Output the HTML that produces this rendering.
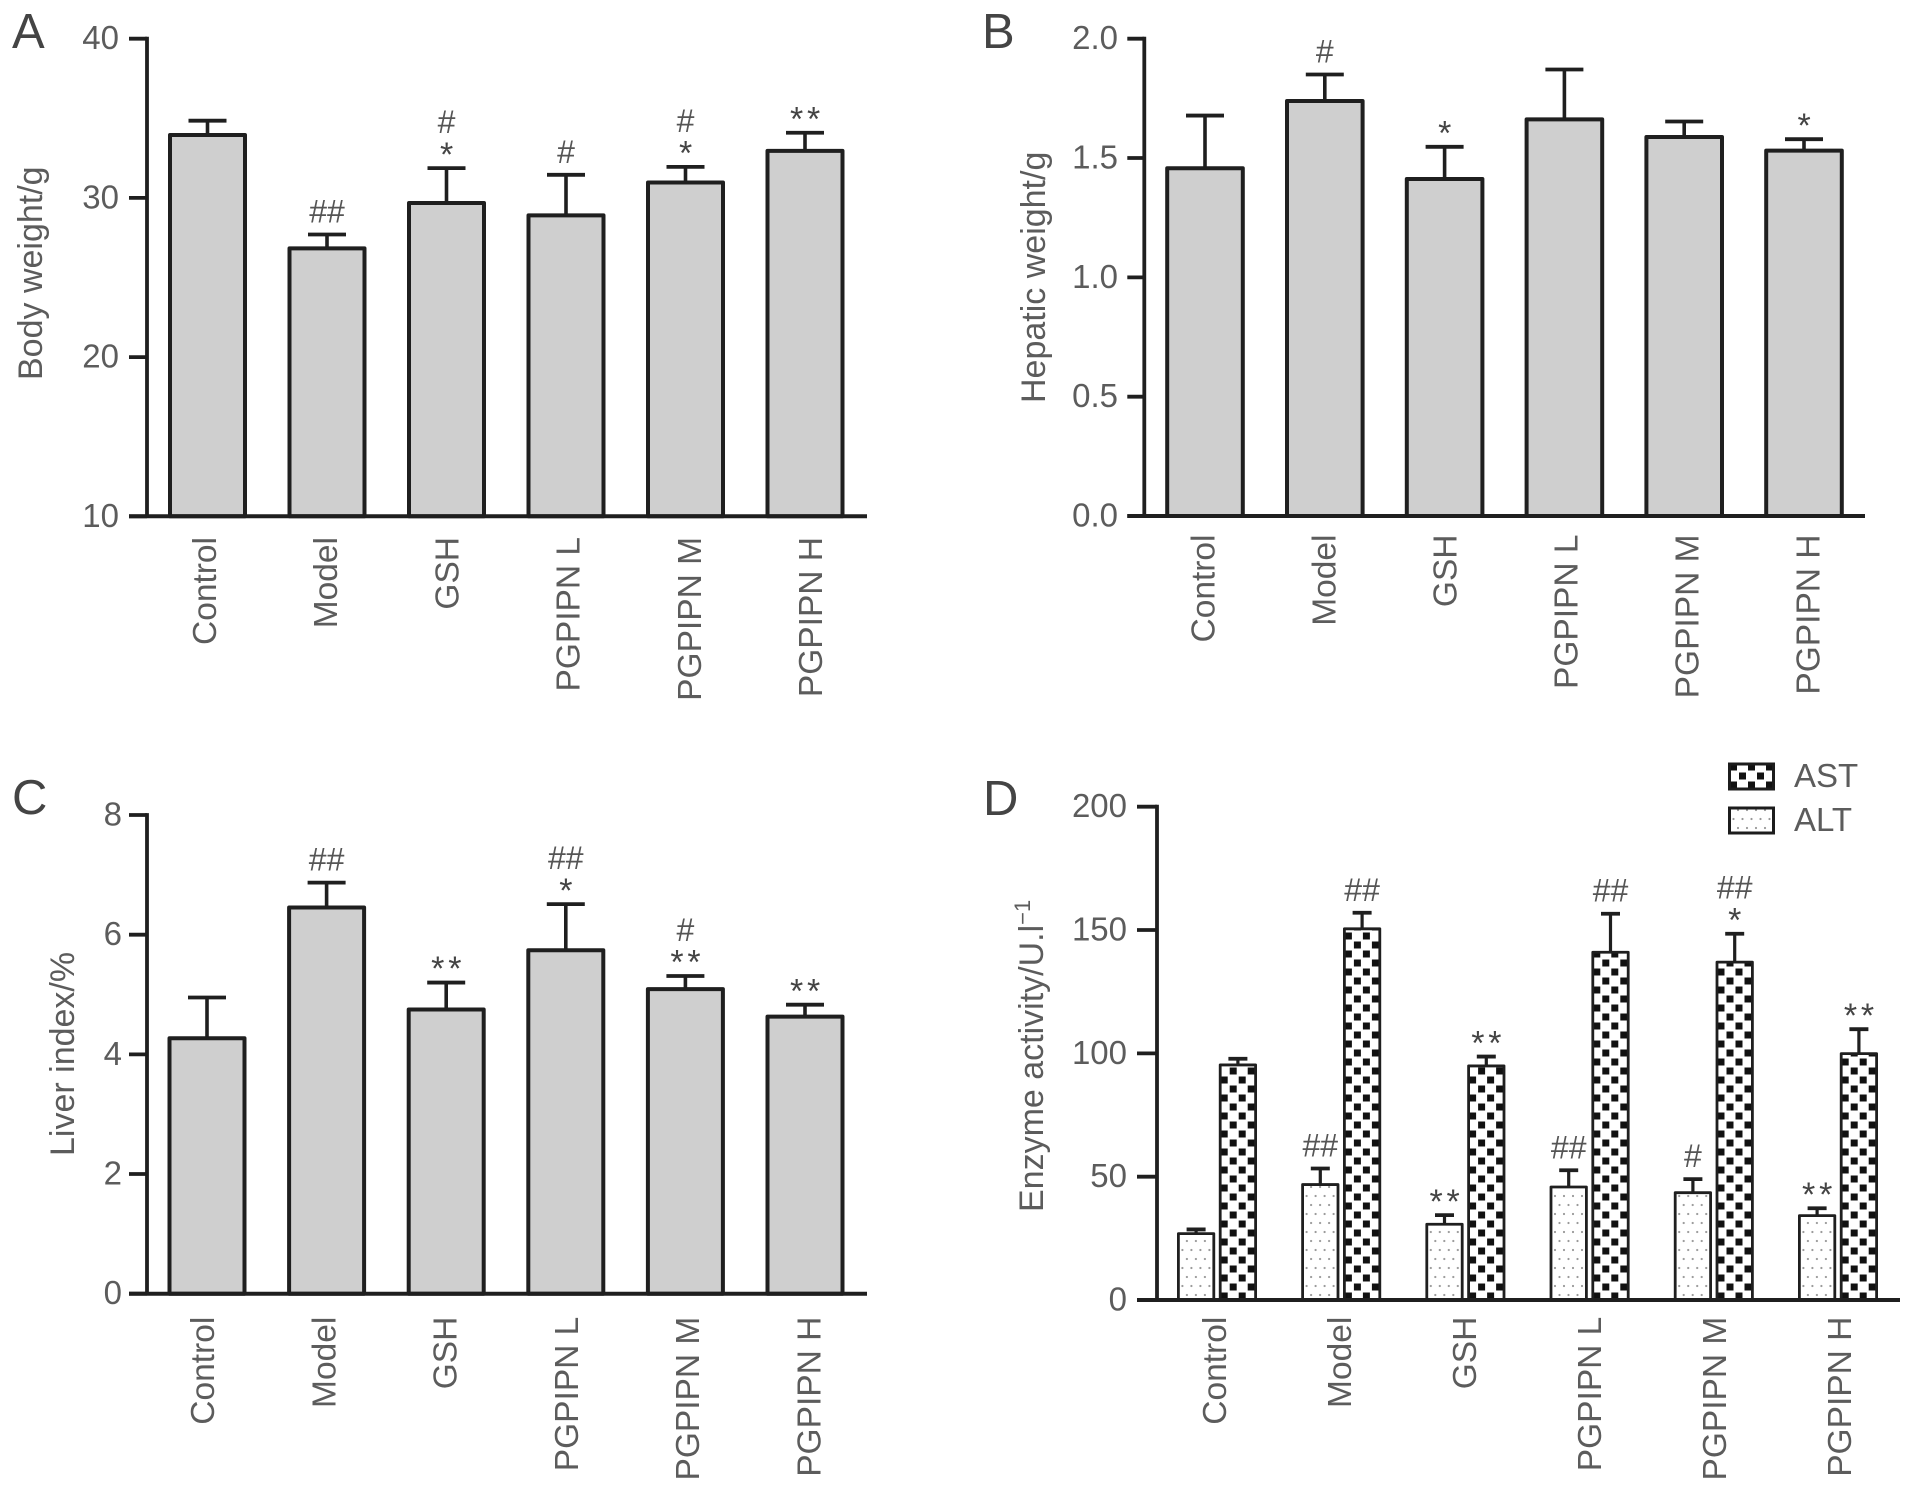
<!DOCTYPE html>
<html lang="en">
<head>
<meta charset="utf-8">
<title>Body weight, hepatic weight, liver index and enzyme activity</title>
<style>
html,body{margin:0;padding:0;background:#fff;}
svg{display:block;}
text{font-family:"Liberation Sans",Arial,sans-serif;fill:#5c5c5c;}
.panel-letter{font-size:49px;fill:#444;}
.tick{font-size:33px;text-anchor:end;}
.cat{font-size:33.5px;text-anchor:end;}
.title{font-size:34px;}
.legend-text{font-size:33px;}
.hash{font-size:32px;text-anchor:middle;fill:#555;}
.star{font-size:34px;text-anchor:middle;letter-spacing:3.8px;fill:#444;}
</style>
</head>
<body>
<svg id="figure" xmlns="http://www.w3.org/2000/svg" width="1913" height="1490" viewBox="0 0 1913 1490">
  <defs>
    <pattern id="check" patternUnits="userSpaceOnUse" width="18" height="18">
      <rect x="0" y="0" width="18" height="18" fill="#fff"/>
      <rect x="0.5" y="10.5" width="7" height="7" fill="#111"/>
      <rect x="9.5" y="1.5" width="7" height="7" fill="#111"/>
    </pattern>
    <pattern id="dots" patternUnits="userSpaceOnUse" width="18" height="18">
      <rect x="0" y="0" width="18" height="18" fill="#fff"/>
      <circle cx="4" cy="4" r="1.1" fill="#999"/>
      <circle cx="13" cy="4" r="1.1" fill="#999"/>
      <circle cx="8.5" cy="13" r="1.1" fill="#999"/>
      <circle cx="17.5" cy="13" r="1.1" fill="#999"/>
      <circle cx="-0.5" cy="13" r="1.1" fill="#999"/>
    </pattern>
  </defs>
  <g id="panel-a"></g>
  <g id="panel-b"></g>
  <g id="panel-c"></g>
  <g id="panel-d"></g>
  <g>
    <g>
      <g transform="translate(1729.5,789)">
        <rect x="0" y="-25" width="44" height="25" fill="url(#check)" stroke="#1c1c1c" stroke-width="3"/>
      </g>
      <text class="legend-text" x="1794" y="787">AST</text>
    </g>
    <g>
      <g transform="translate(1729.5,833)">
        <rect x="0" y="-25" width="44" height="25" fill="url(#dots)" stroke="#1c1c1c" stroke-width="3"/>
      </g>
      <text class="legend-text" x="1794" y="831">ALT</text>
    </g>
  </g>
</svg>
<script>
const categories = ['Control', 'Model', 'GSH', 'PGPIPN L', 'PGPIPN M', 'PGPIPN H'];

const bodyWeightTicks = [10, 20, 30, 40];
const bodyWeightMeans = [33.95, 26.83, 29.68, 28.9, 30.97, 32.95];
const bodyWeightUpper = [34.85, 27.7, 31.87, 31.45, 31.95, 34.09];
const bodyWeightHash = ['', '##', '#', '#', '#', ''];
const bodyWeightStars = ['', '', '*', '', '*', '**'];

const hepaticTicks = ['0.0', '0.5', '1.0', '1.5', '2.0'];
const hepaticMeans = [1.457, 1.739, 1.412, 1.662, 1.588, 1.531];
const hepaticUpper = [1.678, 1.85, 1.547, 1.871, 1.653, 1.579];
const hepaticHash = ['', '#', '', '', '', ''];
const hepaticStars = ['', '', '*', '', '', '*'];

const liverTicks = [0, 2, 4, 6, 8];
const liverMeans = [4.27, 6.455, 4.75, 5.74, 5.09, 4.63];
const liverUpper = [4.95, 6.87, 5.2, 6.51, 5.31, 4.83];
const liverHash = ['', '##', '', '##', '#', ''];
const liverStars = ['', '', '**', '*', '**', '**'];

const enzymeTicks = [0, 50, 100, 150, 200];
const altMeans = [26.9, 46.8, 30.7, 45.8, 43.5, 34.2];
const altUpper = [28.6, 53.3, 34.4, 52.6, 49, 37.2];
const altHash = ['', '##', '', '##', '#', ''];
const altStars = ['', '', '**', '', '', '**'];
const astMeans = [95.3, 150.5, 94.9, 141, 137, 99.9];
const astUpper = [97.8, 157, 98.7, 156.6, 148.5, 109.8];
const astHash = ['', '##', '', '##', '##', ''];
const astStars = ['', '', '**', '', '*', '**'];

const SVGNS = 'http://www.w3.org/2000/svg';

function shape(tag, attrs, parent) {
  const node = document.createElementNS(SVGNS, tag);
  Object.keys(attrs).forEach(function (k) { node.setAttribute(k, attrs[k]); });
  parent.appendChild(node);
  return node;
}

function slug(s) {
  return s.toLowerCase().replace(/[^a-z0-9]+/g, '-');
}

function makeScale(vMin, vMax, pxBottom, pxTop) {
  return function (v) {
    return pxBottom + (v - vMin) / (vMax - vMin) * (pxTop - pxBottom);
  };
}

function drawFrame(root, cfg, ticks, yScale) {
  const letter = shape('text', { x: cfg.letterX, y: cfg.letterY, 'class': 'panel-letter' }, root);
  letter.textContent = cfg.letter;
  
  

  const title = shape('text', { 'class': 'title', transform: 'translate(' + cfg.titleX + ',' + cfg.titleY + ') rotate(-90)', x: 0, y: 0 }, root);
  title.textContent = cfg.title;
  
  
  if (cfg.titleSup) {
    const sup = shape('tspan', { dy: -13, 'font-size': 22 }, title);
    sup.textContent = cfg.titleSup;
  }

  ticks.forEach(function (t) {
    const y = yScale(Number(t));
    const mark = shape('line', { x1: cfg.tickLeft, x2: cfg.axisX, y1: y, y2: y, stroke: '#1f1f1f', 'stroke-width': 3.8 }, root);
    
    
    const label = shape('text', { x: cfg.tickLabelX, y: y + 10.5, 'class': 'tick' }, root);
    label.textContent = String(t);
    
    
  });

  const axis = shape('line', { x1: cfg.axisX, x2: cfg.axisX, y1: cfg.pxTop - 1.9, y2: cfg.pxBottom, stroke: '#1f1f1f', 'stroke-width': 3.8 }, root);
  
  

  categories.forEach(function (c, i) {
    const x = cfg.labelStart + cfg.labelStep * i;
    const label = shape('text', { 'class': 'cat', transform: 'translate(' + x + ',' + cfg.labelTop + ') rotate(-90)', x: 0, y: 0 }, root);
    label.textContent = c;
    
    
  });
}

function drawBaseline(root, cfg) {
  const axis = shape('line', { x1: cfg.tickLeft, x2: cfg.axisEnd, y1: cfg.pxBottom, y2: cfg.pxBottom, stroke: '#1f1f1f', 'stroke-width': 4 }, root);
  
  
}

function drawBar(root, cx, opts, mean, upper, hash, stars, yScale, name) {
  const top = yScale(mean);
  const errTop = yScale(upper);
  const base = yScale(opts.vMin);

  const stem = shape('line', { x1: cx, x2: cx, y1: top, y2: errTop, stroke: '#1f1f1f', 'stroke-width': opts.stem }, root);
  
  

  const cap = shape('line', { x1: cx - opts.cap / 2, x2: cx + opts.cap / 2, y1: errTop, y2: errTop, stroke: '#1f1f1f', 'stroke-width': opts.capStroke }, root);
  
  

  const left = cx - opts.width / 2;
  const holder = shape('g', { transform: 'translate(' + left + ',' + base + ')' }, root);
  const bar = shape('rect', { x: 0, y: top - base, width: opts.width, height: base - top, fill: opts.fill, stroke: '#1f1f1f', 'stroke-width': opts.stroke, 'stroke-linejoin': 'round' }, holder);
  
  

  if (stars) {
    const s = shape('text', { x: cx + 2, y: errTop - 22 + 19.7, 'class': 'star' }, root);
    s.textContent = stars;
    
    
  }
  if (hash) {
    const h = shape('text', { x: cx, y: errTop - (stars ? 46 : 23) + 11, 'class': 'hash' }, root);
    h.textContent = hash;
    
    
  }
}

function drawSinglePanel(id, cfg, ticks, means, upper, hash, stars) {
  const root = document.getElementById(id);
  const yScale = makeScale(cfg.vMin, cfg.vMax, cfg.pxBottom, cfg.pxTop);
  drawFrame(root, cfg, ticks, yScale);
  const opts = { vMin: cfg.vMin, width: cfg.barWidth, fill: '#cfcfcf', stroke: 4, stem: 3.6, cap: 38, capStroke: 3.8 };
  categories.forEach(function (c, i) {
    const cx = cfg.barStart + cfg.barStep * i;
    drawBar(root, cx, opts, means[i], upper[i], hash[i], stars[i], yScale, slug(c));
  });
  drawBaseline(root, cfg);
}

drawSinglePanel('panel-a', {
  letter: 'A', letterX: 12, letterY: 48,
  title: 'Body weight/g', titleX: 42, titleY: 380,
  vMin: 10, vMax: 40, pxBottom: 516.3, pxTop: 38.7,
  axisX: 147, tickLeft: 129, tickLabelX: 119, axisEnd: 867,
  barStart: 207.5, barStep: 119.5, barWidth: 75,
  labelStart: 216, labelStep: 121.2, labelTop: 537
}, bodyWeightTicks, bodyWeightMeans, bodyWeightUpper, bodyWeightHash, bodyWeightStars);

drawSinglePanel('panel-b', {
  letter: 'B', letterX: 982, letterY: 48,
  title: 'Hepatic weight/g', titleX: 1045, titleY: 403,
  vMin: 0, vMax: 2, pxBottom: 516, pxTop: 38.7,
  axisX: 1144.3, tickLeft: 1127.3, tickLabelX: 1118, axisEnd: 1865,
  barStart: 1205, barStep: 119.8, barWidth: 75.6,
  labelStart: 1214.5, labelStep: 121, labelTop: 534.5
}, hepaticTicks, hepaticMeans, hepaticUpper, hepaticHash, hepaticStars);

drawSinglePanel('panel-c', {
  letter: 'C', letterX: 12, letterY: 814,
  title: 'Liver index/%', titleX: 74, titleY: 1156,
  vMin: 0, vMax: 8, pxBottom: 1293.7, pxTop: 815,
  axisX: 147, tickLeft: 129, tickLabelX: 122, axisEnd: 867,
  barStart: 207, barStep: 119.6, barWidth: 75,
  labelStart: 214, labelStep: 121.3, labelTop: 1316.7
}, liverTicks, liverMeans, liverUpper, liverHash, liverStars);

(function drawEnzymePanel() {
  const cfg = {
    letter: 'D', letterX: 983, letterY: 815,
    title: 'Enzyme activity/U.l', titleSup: '\u22121', titleX: 1043, titleY: 1212,
    vMin: 0, vMax: 200, pxBottom: 1300, pxTop: 806.7,
    axisX: 1157, tickLeft: 1137, tickLabelX: 1127, axisEnd: 1900,
    groupStart: 1217, groupStep: 124.2, barOffset: 20.9, barWidth: 35.4,
    labelStart: 1226, labelStep: 125, labelTop: 1316.7
  };
  const root = document.getElementById('panel-d');
  const yScale = makeScale(cfg.vMin, cfg.vMax, cfg.pxBottom, cfg.pxTop);
  drawFrame(root, cfg, enzymeTicks, yScale);
  const base = { vMin: 0, width: cfg.barWidth, stroke: 2.8, stem: 3.2, cap: 19, capStroke: 3.8 };
  categories.forEach(function (c, i) {
    const cx = cfg.groupStart + cfg.groupStep * i;
    const altOpts = Object.assign({}, base, { fill: 'url(#dots)' });
    const astOpts = Object.assign({}, base, { fill: 'url(#check)' });
    drawBar(root, cx - cfg.barOffset, altOpts, altMeans[i], altUpper[i], altHash[i], altStars[i], yScale, 'alt-' + slug(c));
    drawBar(root, cx + cfg.barOffset, astOpts, astMeans[i], astUpper[i], astHash[i], astStars[i], yScale, 'ast-' + slug(c));
  });
  drawBaseline(root, cfg);
})();
</script>
</body>
</html>
